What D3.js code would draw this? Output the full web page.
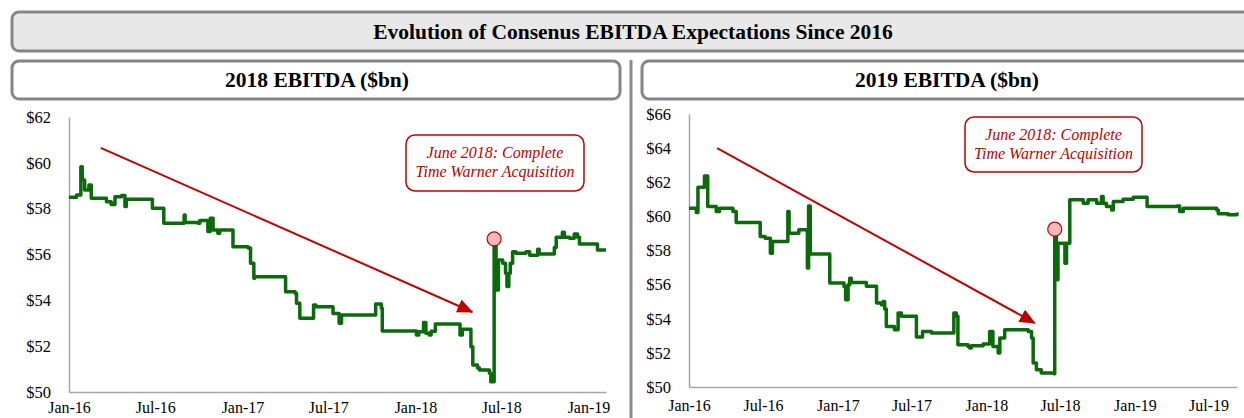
<!DOCTYPE html>
<html><head><meta charset="utf-8">
<script src="https://cdn.jsdelivr.net/npm/d3@7"></script>
<style>
html,body{margin:0;padding:0;background:#fff;}
svg{display:block;}
</style></head>
<body>
<svg id="chart" width="1244" height="418"></svg>
<script>
const mainTitle = "Evolution of Consenus EBITDA Expectations Since 2016";
const panelTitles = ["2018 EBITDA ($bn)", "2019 EBITDA ($bn)"];
const noteLines = ["June 2018: Complete", "Time Warner Acquisition"];

const yTicks2018 = [50, 52, 54, 56, 58, 60, 62];
const yTicks2019 = [50, 52, 54, 56, 58, 60, 62, 64, 66];
const xTicks2018 = ["2016-01-01","2016-07-01","2017-01-01","2017-07-01","2018-01-01","2018-07-01","2019-01-01"];
const xTicks2019 = ["2016-01-01","2016-07-01","2017-01-01","2017-07-01","2018-01-01","2018-07-01","2019-01-01","2019-07-01"];
const xDomain2018 = ["2016-01-01","2019-02-07"];
const xDomain2019 = ["2016-01-01","2019-09-09"];

const ebitda2018 = [
["2016-01-01",58.50],["2016-01-17",58.60],["2016-01-26",59.83],["2016-01-29",59.25],
["2016-02-03",58.82],["2016-02-12",59.03],["2016-02-17",58.45],["2016-03-20",58.30],
["2016-03-30",58.18],["2016-04-07",58.52],["2016-04-21",58.57],["2016-04-28",58.09],
["2016-05-01",58.41],["2016-06-25",58.02],["2016-07-19",57.36],["2016-08-31",57.72],
["2016-09-02",57.40],["2016-09-29",57.36],["2016-10-03",57.48],["2016-10-20",57.00],
["2016-10-25",57.58],["2016-10-31",57.07],["2016-11-10",56.93],["2016-11-14",57.07],
["2016-12-12",56.34],["2017-01-13",56.28],["2017-01-18",55.62],["2017-01-25",54.96],
["2017-01-27",55.03],["2017-04-02",54.38],["2017-04-22",54.31],["2017-04-25",53.87],
["2017-05-02",53.22],["2017-05-31",53.80],["2017-06-05",53.72],["2017-07-11",53.43],
["2017-07-24",53.00],["2017-07-29",53.36],["2017-10-09",53.84],["2017-10-21",53.65],
["2017-10-23",52.66],["2018-01-03",52.49],["2018-01-08",52.63],["2018-01-18",53.03],
["2018-01-23",52.56],["2018-01-30",52.49],["2018-02-03",52.65],["2018-02-12",52.97],
["2018-04-05",52.49],["2018-04-10",52.74],["2018-04-28",51.98],["2018-05-02",51.18],
["2018-05-12",51.05],["2018-05-16",50.96],["2018-06-06",50.82],["2018-06-09",50.45],
["2018-06-16",56.68],["2018-06-20",54.45],["2018-06-25",55.76],["2018-07-04",55.62],
["2018-07-10",55.18],["2018-07-13",54.60],["2018-07-17",55.18],["2018-07-20",55.62],
["2018-07-25",56.12],["2018-08-01",56.05],["2018-08-22",56.12],["2018-08-30",55.97],
["2018-09-16",56.23],["2018-09-19",56.02],["2018-10-21",56.31],["2018-10-25",56.75],
["2018-11-07",56.97],["2018-11-11",56.75],["2018-11-22",56.71],["2018-12-02",56.90],
["2018-12-09",56.75],["2018-12-13",56.46],["2019-01-20",56.20],["2019-02-07",56.20]
];

const ebitda2019 = [
["2016-01-01",60.48],["2016-01-15",60.48],["2016-01-19",60.22],["2016-01-23",61.71],
["2016-02-08",62.37],["2016-02-16",60.58],["2016-03-08",60.28],["2016-03-16",60.48],
["2016-04-18",60.28],["2016-04-26",59.64],["2016-06-24",58.82],["2016-07-06",58.72],
["2016-07-19",57.84],["2016-07-24",58.53],["2016-08-31",60.28],["2016-09-03",59.01],
["2016-09-27",59.21],["2016-10-16",59.17],["2016-10-18",56.97],["2016-10-21",60.61],
["2016-10-25",57.80],["2016-12-12",56.09],["2017-01-16",55.89],["2017-01-20",55.11],
["2017-01-26",55.99],["2017-01-30",56.38],["2017-02-03",56.13],["2017-03-12",55.90],
["2017-04-06",54.92],["2017-04-18",54.82],["2017-04-22",55.01],["2017-04-26",54.57],
["2017-04-30",53.55],["2017-05-20",53.36],["2017-05-29",54.33],["2017-06-06",54.14],
["2017-07-13",52.93],["2017-07-28",53.26],["2017-08-19",53.16],["2017-10-13",54.33],
["2017-10-19",54.14],["2017-10-23",52.48],["2017-11-17",52.38],["2017-11-21",52.28],
["2017-11-25",52.42],["2017-12-24",52.52],["2018-01-09",53.26],["2018-01-17",52.38],
["2018-01-30",51.99],["2018-02-03",52.87],["2018-02-15",53.36],["2018-04-14",53.26],
["2018-04-22",52.87],["2018-04-26",51.40],["2018-05-04",51.01],["2018-05-16",50.82],
["2018-06-16",50.78],["2018-06-18",59.25],["2018-06-22",56.28],["2018-06-26",58.43],
["2018-07-13",57.26],["2018-07-17",58.43],["2018-07-25",60.97],["2018-08-27",60.77],
["2018-09-08",60.97],["2018-09-29",60.77],["2018-10-11",61.16],["2018-10-15",60.77],
["2018-10-23",60.58],["2018-11-05",60.38],["2018-11-09",60.87],["2018-12-03",61.00],
["2018-12-28",61.12],["2019-01-31",60.58],["2019-04-15",60.61],["2019-04-21",60.28],
["2019-04-30",60.48],["2019-07-21",60.38],["2019-07-25",60.15],["2019-08-18",60.09],
["2019-09-09",60.22]
];

// annotation anchors in data units: [date, value]
const arrow2018 = [["2016-03-08",60.65],["2018-05-01",53.49]];
const arrow2019 = [["2016-03-10",64.00],["2018-04-30",53.75]];
const marker2018 = ["2018-06-16",56.68];
const marker2019 = ["2018-06-18",59.25];

const FONT = "'Liberation Serif','Times New Roman','DejaVu Serif',serif";
const parse = d3.timeParse("%Y-%m-%d");
const svg = d3.select("#chart");
const GREY = "#868686", RED = "#c00000", GREEN = "#0b6a0b";

svg.append("defs").append("marker")
  .attr("id","arrowHead").attr("markerUnits","userSpaceOnUse")
  .attr("markerWidth",16).attr("markerHeight",14)
  .attr("viewBox","0 0 16 14").attr("refX",15).attr("refY",7).attr("orient","auto")
  .append("path").attr("d","M0,0 L16,7 L0,14 Z").attr("fill",RED);

svg.append("rect").attr("x",12).attr("y",12).attr("width",1260).attr("height",39)
  .attr("rx",7).attr("fill","#e8e8e8").attr("stroke",GREY).attr("stroke-width",3);
svg.append("text").attr("x",633).attr("y",39).attr("text-anchor","middle")
  .style("font-family",FONT).style("font-size","21.5px").style("font-weight","bold")
  .attr("fill","#000").text(mainTitle);

svg.append("rect").attr("x",12).attr("y",61).attr("width",608).attr("height",38)
  .attr("rx",7).attr("fill","#fff").attr("stroke",GREY).attr("stroke-width",3);
svg.append("rect").attr("x",642).attr("y",61).attr("width",640).attr("height",38)
  .attr("rx",7).attr("fill","#fff").attr("stroke",GREY).attr("stroke-width",3);
svg.append("line").attr("x1",631).attr("x2",631).attr("y1",60).attr("y2",418)
  .attr("stroke","#8c8c8c").attr("stroke-width",3);

function panel(cfg){
  const g = svg.append("g");
  g.append("text").attr("x",cfg.titleX).attr("y",87).attr("text-anchor","middle")
    .style("font-family",FONT).style("font-size","21.5px").style("font-weight","bold")
    .text(cfg.title);

  const x = d3.scaleTime().domain(cfg.xDomain.map(parse)).range([cfg.left, cfg.right]);
  const y = d3.scaleLinear().domain([cfg.yTicks[0], cfg.yTicks[cfg.yTicks.length-1]]).range([cfg.bottom, cfg.top]);

  const ya = g.append("g").attr("transform",`translate(${cfg.left},0)`)
    .call(d3.axisLeft(y).tickValues(cfg.yTicks).tickSize(0).tickSizeOuter(0).tickPadding(18).tickFormat(d=>"$"+d));
  const xa = g.append("g").attr("transform",`translate(0,${cfg.bottom})`)
    .call(d3.axisBottom(x).tickValues(cfg.xTicks.map(parse)).tickSize(0).tickSizeOuter(0).tickPadding(cfg.xPad).tickFormat(d3.timeFormat("%b-%y")));
  [ya,xa].forEach(a=>{
    a.attr("font-family",null).attr("font-size",null);
    a.select(".domain").attr("stroke","#a6a6a6").attr("stroke-width",1.5);
    a.selectAll("text").style("font-family",FONT).style("font-size","16.5px").attr("fill","#000");
  });
  xa.selectAll("text").style("font-size","16px");

  g.append("line")
    .attr("x1",x(parse(cfg.arrow[0][0]))).attr("y1",y(cfg.arrow[0][1]))
    .attr("x2",x(parse(cfg.arrow[1][0]))).attr("y2",y(cfg.arrow[1][1]))
    .attr("stroke",RED).attr("stroke-width",2).attr("marker-end","url(#arrowHead)");

  const line = d3.line().curve(d3.curveStepAfter)
    .x(d=>x(parse(d[0]))).y(d=>y(d[1]));
  g.append("path").datum(cfg.data).attr("d",line).attr("fill","none")
    .attr("stroke",GREEN).attr("stroke-width",3.5).attr("stroke-linejoin","round");

  g.append("circle").attr("cx",x(parse(cfg.marker[0]))).attr("cy",y(cfg.marker[1])).attr("r",7)
    .attr("fill","#f6b8b8").attr("stroke",RED).attr("stroke-width",1.2);

  const b = cfg.note;
  g.append("rect").attr("x",b.x).attr("y",b.y).attr("width",b.w).attr("height",b.h).attr("rx",9)
    .attr("fill","#fff").attr("stroke",RED).attr("stroke-width",1.5);
  noteLines.forEach((t,i)=>{
    g.append("text").attr("x",b.x+b.w/2).attr("y",b.y+23+i*19).attr("text-anchor","middle")
      .style("font-family",FONT).style("font-size","16px").style("font-style","italic")
      .attr("fill",RED).text(t);
  });
}

panel({title:panelTitles[0], titleX:317, left:69, right:606, top:117, bottom:392, xPad:10,
  xDomain:xDomain2018, yTicks:yTicks2018, xTicks:xTicks2018, data:ebitda2018,
  arrow:arrow2018, marker:marker2018, note:{x:406,y:135,w:178,h:56}});
panel({title:panelTitles[1], titleX:947, left:689, right:1237, top:114, bottom:387, xPad:13,
  xDomain:xDomain2019, yTicks:yTicks2019, xTicks:xTicks2019, data:ebitda2019,
  arrow:arrow2019, marker:marker2019, note:{x:965,y:117,w:177,h:55}});
</script>
</body></html>
